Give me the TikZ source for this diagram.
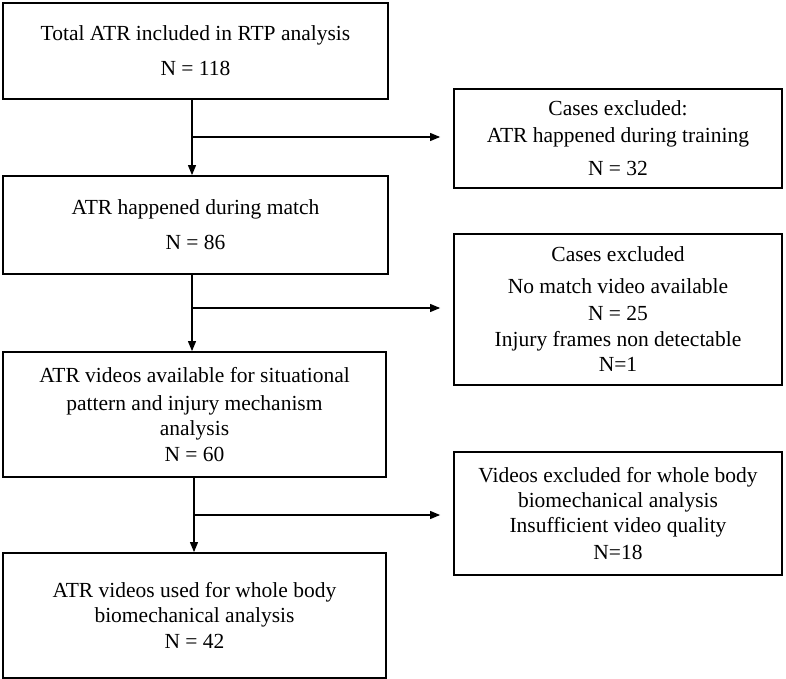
\documentclass[tikz,border=0pt]{standalone}
\usepackage{fontspec}
\setmainfont{Liberation Serif}
\usetikzlibrary{arrows.meta}
\begin{document}
\begin{tikzpicture}[x=1pt,y=-1pt,
 box/.style={draw, line width=1.8pt, align=center, inner sep=0pt, font=\fontsize{21.5}{25}\selectfont},
 lbox/.style={box, minimum width=385pt},
 rbox/.style={box, minimum width=328pt},
 arr/.style={line width=1.1pt, -{Triangle[length=10pt,width=8pt]}}]
\useasboundingbox (0,0) rectangle (786,679);
\fill[white] (0,0) rectangle (786,679);
% left column
\node[lbox, minimum height=96pt] (b1) at (195.5,51) {Total ATR included in RTP analysis\\[10pt] N = 118};
\node[lbox, minimum height=98pt] (b2) at (195.5,225) {ATR happened during match\\[10pt] N = 86};
\node[lbox, minimum width=383pt, minimum height=125pt] (b3) at (194.5,414.5) {ATR videos available for situational\\[3pt] pattern and injury mechanism\\ analysis\\[1pt] N = 60};
\node[lbox, minimum width=383pt, minimum height=125pt] (b4) at (194.5,615.5) {ATR videos used for whole body\\ biomechanical analysis\\[1pt] N = 42};
% right column
\node[rbox, minimum height=99pt] (r1) at (618,138.5) {Cases excluded:\\[2pt] ATR happened during training\\[8pt] N = 32};
\node[rbox, minimum height=151pt] (r2) at (618,309.5) {Cases excluded\\[7pt] No match video available\\[2pt] N = 25\\[1pt] Injury frames non detectable\\ N=1};
\node[rbox, minimum height=123pt] (r3) at (618,513.5) {Videos excluded for whole body\\ biomechanical analysis\\ Insufficient video quality\\[2pt] N=18};
% connectors
\draw[arr] ([xshift=-3.5pt]b1.south) -- ([xshift=-3.5pt]b2.north);
\draw[arr] ([xshift=-3.5pt]b2.south) -- ([xshift=-2.5pt]b3.north);
\draw[arr] ([xshift=-0.5pt]b3.south) -- ([xshift=-0.5pt]b4.north);
\coordinate (j1) at (192,137);
\coordinate (j2) at (192,308);
\coordinate (j3) at (194,515);
\draw[arr, shorten >=13pt] (j1) -- (r1.west |- j1);
\draw[arr, shorten >=13pt] (j2) -- (r2.west |- j2);
\draw[arr, shorten >=13pt] (j3) -- (r3.west |- j3);
\end{tikzpicture}
\end{document}
